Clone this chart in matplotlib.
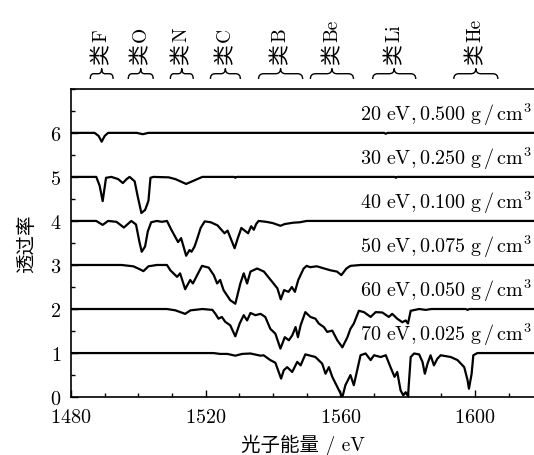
import numpy as np
import matplotlib
matplotlib.use("Agg")
import matplotlib.pyplot as plt
from matplotlib.path import Path
from matplotlib.patches import PathPatch
from matplotlib.ticker import MultipleLocator
import matplotlib.transforms as mtransforms

plt.rcParams['font.family'] = ['cmr10', 'Noto Sans CJK SC']
plt.rcParams['mathtext.fontset'] = 'cm'
plt.rcParams['axes.formatter.use_mathtext'] = True

### spectra: photon energy (eV) and transmission, each shifted up by its offset
e20 = [1480, 1487.0, 1488.2, 1489.1, 1490.0, 1491.0, 1499.5, 1501.3, 1503.0,
       1573.0, 1573.5, 1574.0, 1620]
t20 = [1, 1, 0.93, 0.80, 0.93, 1.0, 1.0, 0.97, 1.0, 1.0, 0.98, 1.0, 1.0]

e30 = [1480, 1487.5, 1488.5, 1489.4, 1490.4, 1492, 1494, 1495.4, 1496.5, 1497.4,
       1498.9, 1499.8, 1500.9, 1502.0, 1502.6, 1503.0, 1503.6, 1504.5, 1509,
       1511, 1514.2, 1516, 1519, 1528.5, 1528.8, 1529.2, 1576.2, 1576.5, 1576.8, 1620]
t30 = [1, 1.0, 0.8, 0.45, 0.98, 1.0, 0.95, 0.86, 0.95, 1.0,
       0.90, 0.56, 0.18, 0.25, 0.37, 0.46, 0.98, 1.0, 0.99,
       0.95, 0.84, 0.90, 1.0, 1.0, 0.98, 1.0, 1.0, 0.98, 1.0, 1.0]

e40 = [1480, 1487.5, 1489.4, 1491.0, 1493.5, 1495.7, 1497.9, 1499.3, 1500.3, 1501.0,
       1502.0, 1502.8, 1503.8, 1505.5, 1507, 1508.5, 1509.8, 1511.8, 1512.7, 1514.2,
       1515.2, 1515.8, 1516.7, 1517.5, 1518.5, 1519.7, 1521.5, 1523.5, 1525.6, 1526.5,
       1528.6, 1529.5, 1530.6, 1531.6, 1532.6, 1533.5, 1534.3, 1535.0, 1535.7, 1538,
       1540, 1542.2, 1543.5, 1546, 1548, 1550, 1620]
t40 = [1, 1.0, 0.91, 1.0, 0.98, 0.85, 1.0, 0.92, 0.53, 0.30,
       0.42, 0.76, 0.97, 1.0, 0.98, 1.0, 0.80, 0.52, 0.61, 0.21,
       0.34, 0.30, 0.42, 0.60, 0.84, 0.99, 0.97, 0.90, 0.72, 0.78,
       0.38, 0.60, 0.84, 0.78, 0.72, 0.88, 0.80, 0.93, 1.0, 0.98,
       0.95, 0.89, 0.93, 0.96, 0.97, 1.0, 1.0]

e50 = [1480, 1495, 1498.5, 1500.5, 1501.5, 1503, 1505.5, 1508.5, 1509.5, 1511.5,
       1512.4, 1513.9, 1515.4, 1516.2, 1517.2, 1518.9, 1520.9, 1522.4, 1523.4, 1524.3,
       1525.3, 1527.3, 1528.8, 1530.3, 1531.3, 1532.3, 1533.3, 1535.3, 1537.3, 1539.3,
       1541.3, 1542.3, 1543.3, 1544.6, 1545.6, 1546.5, 1547.5, 1549.1, 1550, 1551,
       1553, 1557, 1559, 1560.3, 1561.8, 1563, 1566, 1620]
t50 = [1, 1.0, 0.97, 0.90, 0.86, 0.97, 1.0, 1.0, 0.88, 0.73,
       0.81, 0.45, 0.66, 0.58, 0.73, 0.98, 0.94, 0.77, 0.58, 0.66,
       0.43, 0.20, 0.12, 0.58, 0.81, 0.58, 0.85, 0.92, 0.85, 0.66,
       0.47, 0.22, 0.43, 0.39, 0.50, 0.39, 0.66, 0.92, 0.98, 0.95,
       0.97, 0.88, 0.85, 0.77, 0.92, 0.98, 1.0, 1.0]

e60 = [1480, 1508.5, 1511, 1513.9, 1515.5, 1519, 1522, 1522.9, 1523.8, 1524.8,
       1525.8, 1527.3, 1528.8, 1530.1, 1531.3, 1532.3, 1533.3, 1534.8, 1536.3, 1537.7,
       1539.2, 1540.7, 1542.2, 1543.5, 1544.7, 1545.7, 1546.7, 1547.4, 1548.2, 1549.6,
       1551.1, 1552.6, 1553.6, 1555.1, 1556.1, 1557.6, 1559.1, 1560.6, 1562.1, 1563.0,
       1564.0, 1565.5, 1567.0, 1569.0, 1570.5, 1572.5, 1574.4, 1575.4, 1576.9, 1578.4,
       1579.4, 1580.1, 1580.9, 1583.4, 1585.4, 1587, 1597.3, 1597.8, 1598.3, 1620]
t60 = [1, 1.0, 0.97, 0.89, 0.97, 1.0, 0.98, 0.89, 0.78, 0.82,
       0.71, 0.63, 0.38, 0.67, 0.86, 0.74, 0.91, 0.86, 0.89, 0.82,
       0.55, 0.44, 0.10, 0.36, 0.29, 0.40, 0.59, 0.36, 0.63, 0.93,
       0.82, 0.78, 0.67, 0.59, 0.48, 0.51, 0.29, 0.13, 0.36, 0.55,
       0.67, 0.96, 0.93, 0.82, 0.93, 0.92, 0.82, 0.89, 0.78, 0.70,
       0.74, 0.67, 0.96, 1.0, 0.98, 1.0, 1.0, 0.98, 1.0, 1.0]

e70 = [1480, 1522.3, 1524.3, 1526.5, 1528.8, 1530.8, 1533.3, 1536.3, 1537.2, 1539.2,
       1540.7, 1542.4, 1543.2, 1544.2, 1545.7, 1547.2, 1548.2, 1549.6, 1552.6, 1554.6,
       1555.6, 1556.6, 1557.6, 1559.1, 1560.6, 1561.5, 1563.0, 1564.0, 1565.0, 1566.0,
       1567.5, 1569.0, 1570.0, 1572.0, 1573.5, 1574.9, 1576.1, 1576.9, 1577.9, 1578.7,
       1579.4, 1580.1, 1580.9, 1581.9, 1583.4, 1584.4, 1585.1, 1585.9, 1586.8, 1587.8,
       1588.8, 1589.8, 1592.8, 1594.8, 1596.8, 1597.8, 1598.2, 1599.0, 1599.5, 1600.7, 1620]
t70 = [1, 1.0, 0.98, 0.98, 0.94, 0.98, 0.99, 0.94, 0.95, 0.84,
       0.78, 0.42, 0.61, 0.68, 0.57, 0.80, 0.72, 0.97, 0.91, 0.76,
       0.53, 0.68, 0.46, 0.23, 0.0, 0.27, 0.50, 0.27, 0.61, 0.95,
       0.99, 0.84, 0.95, 0.91, 0.95, 0.68, 0.46, 0.57, 0.15, 0.04,
       0.11, 0.02, 0.91, 0.99, 0.97, 0.80, 0.53, 0.76, 0.95, 0.72,
       0.87, 0.95, 0.91, 0.84, 0.68, 0.38, 0.19, 0.53, 0.95, 1.0, 1.0]

spectra = [(e20, t20), (e30, t30), (e40, t40), (e50, t50), (e60, t60), (e70, t70)]
offsets = [5, 4, 3, 2, 1, 0]
temps = ['20', '30', '40', '50', '60', '70']
densities = ['0.500', '0.250', '0.100', '0.075', '0.050', '0.025']

# ion groups marked above the plot: label and energy range
ion_labels = ['F', 'O', 'N', 'C', 'B', 'Be', 'Li', 'He']
ion_ranges = [(1485.7, 1492.5), (1497.0, 1504.4), (1509.5, 1516.3), (1521.4, 1530.3),
              (1535.7, 1548.8), (1551.1, 1563.9), (1569.6, 1582.4), (1593.7, 1606.8)]


def brace(ax, x0, x1, y, h):
    # horizontal brace, tip pointing up; x in data, y in axes fraction
    trans = mtransforms.blended_transform_factory(ax.transData, ax.transAxes)
    xm = 0.5 * (x0 + x1)
    d = min(1.5, 0.15 * (x1 - x0))
    verts = [(x0, y - h), (x0, y), (x0 + d, y),
             (xm - d, y), (xm, y), (xm, y + h),
             (xm, y), (xm + d, y),
             (x1 - d, y), (x1, y), (x1, y - h)]
    codes = [Path.MOVETO, Path.CURVE3, Path.CURVE3,
             Path.LINETO, Path.CURVE3, Path.CURVE3,
             Path.CURVE3, Path.CURVE3,
             Path.LINETO, Path.CURVE3, Path.CURVE3]
    ax.add_patch(PathPatch(Path(verts, codes), transform=trans, fill=False,
                           lw=1.0, color='black', clip_on=False))


fig = plt.figure(figsize=(5.34, 4.56), dpi=100)
ax = fig.add_axes([0.133, 0.127, 0.87, 0.676])

for (e, t), off, temp, dens in zip(spectra, offsets, temps, densities):
    ax.plot(e, np.array(t) + off, color='black', lw=1.6, solid_joinstyle='round')
    ax.text(1617, off + 1.43,
            r'$%s\ \mathrm{eV}, %s\ \mathrm{g\,/\,cm^3}$' % (temp, dens),
            ha='right', va='center', fontsize=14.5)

ax.set_xlim(1480, 1618)
ax.set_ylim(0, 7)
ax.xaxis.set_major_locator(MultipleLocator(40))
ax.xaxis.set_minor_locator(MultipleLocator(10))
ax.yaxis.set_major_locator(MultipleLocator(1))
ax.yaxis.set_minor_locator(MultipleLocator(0.5))
ax.set_yticks(range(0, 7))
ax.tick_params(which='both', direction='in', labelsize=14.5, width=1.0)
ax.tick_params(which='major', length=5)
ax.tick_params(which='minor', length=3)
ax.tick_params(axis='x', pad=8)
ax.tick_params(axis='y', pad=7)
for s in ax.spines.values():
    s.set_linewidth(1.2)

ax.set_xlabel('光子能量 / eV', fontsize=14, labelpad=5)
ax.set_ylabel('透过率', fontsize=14, labelpad=10)

trans = mtransforms.blended_transform_factory(ax.transData, ax.transAxes)
for lab, (x0, x1) in zip(ion_labels, ion_ranges):
    xc = 0.5 * (x0 + x1)
    brace(ax, x0, x1, 1.049, 0.017)
    ax.text(xc, 1.081, '类', rotation=90, ha='center', va='bottom',
            fontsize=15, family='Noto Sans CJK SC', transform=trans, clip_on=False)
    ax.text(xc, 1.155, lab, rotation=90, ha='center', va='bottom',
            fontsize=14, transform=trans, clip_on=False)

fig.savefig('out.png', dpi=100)
